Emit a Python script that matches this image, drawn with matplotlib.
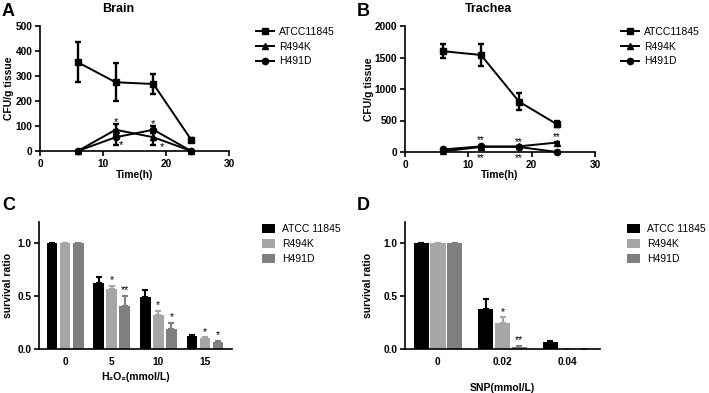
import matplotlib
matplotlib.use("Agg")
import matplotlib.pyplot as plt
import numpy as np

plt.rcParams['font.family'] = ['Liberation Sans', 'DejaVu Sans']

# ---- data ----
time_h = [6, 12, 18, 24]
strains_line = ["ATCC11845", "R494K", "H491D"]
brain_atcc = [355, 275, 268, 45]
brain_atcc_err = [80, 77, 40, 8]
brain_r494k = [0, 85, 55, 0]
brain_r494k_err = [0, 22, 30, 0]
brain_h491d = [0, 55, 85, 0]
brain_h491d_err = [0, 30, 15, 0]

trachea_atcc = [1600, 1540, 800, 440]
trachea_atcc_err = [110, 180, 130, 50]
trachea_r494k = [10, 80, 90, 150]
trachea_r494k_err = [0, 10, 10, 10]
trachea_h491d = [40, 90, 80, 0]
trachea_h491d_err = [0, 10, 10, 0]

strains_bar = ["ATCC 11845", "R494K", "H491D"]
h2o2_conc = ["0", "5", "10", "15"]
h2o2_atcc = [1.0, 0.62, 0.49, 0.12]
h2o2_atcc_err = [0, 0.06, 0.07, 0.01]
h2o2_r494k = [1.0, 0.57, 0.32, 0.10]
h2o2_r494k_err = [0, 0.03, 0.04, 0.01]
h2o2_h491d = [1.0, 0.41, 0.19, 0.07]
h2o2_h491d_err = [0, 0.09, 0.06, 0.01]
h2o2_sig_r494k = ["", "*", "*", "*"]
h2o2_sig_h491d = ["", "**", "*", "*"]

snp_conc = ["0", "0.02", "0.04"]
snp_atcc = [1.0, 0.38, 0.07]
snp_atcc_err = [0, 0.09, 0.01]
snp_r494k = [1.0, 0.25, 0.0]
snp_r494k_err = [0, 0.05, 0]
snp_h491d = [1.0, 0.02, 0.0]
snp_h491d_err = [0, 0.01, 0]
snp_sig_r494k = ["", "*", ""]
snp_sig_h491d = ["", "**", ""]

W, H = 709, 393
fig = plt.figure(figsize=(W / 100, H / 100), dpi=100)

TICK_FS = 7.3
LABEL_FS = 7.5
LEG_FS = 7.5


def px_axes(l, t, r, b):
    return fig.add_axes([l / W, 1 - b / H, (r - l) / W, (b - t) / H])


def style(ax):
    for s in ["top", "right"]:
        ax.spines[s].set_visible(False)
    for s in ["left", "bottom"]:
        ax.spines[s].set_linewidth(1.2)
    ax.tick_params(width=1.2, length=3.5, labelsize=TICK_FS, pad=2)
    for lab in ax.get_xticklabels() + ax.get_yticklabels():
        lab.set_fontweight("bold")


def line_panel(ax, a, ae, r, re_, h, he, ylim, yticks, leg_xy):
    kw = dict(color="black", lw=1.4, capsize=2.5, capthick=1.7, elinewidth=1.7,
              clip_on=False, ms=4.5)
    c1 = ax.errorbar(time_h, a, yerr=ae, marker="s", label=strains_line[0], **kw)
    c2 = ax.errorbar(time_h, r, yerr=re_, marker="^", label=strains_line[1], **kw)
    c3 = ax.errorbar(time_h, h, yerr=he, marker="o", label=strains_line[2], **kw)
    ax.set_xlim(0, 30)
    ax.set_ylim(*ylim)
    ax.set_xticks([0, 10, 20, 30])
    ax.set_yticks(yticks)
    ax.set_xlabel("Time(h)", fontweight="bold", fontsize=LABEL_FS)
    ax.set_ylabel("CFU/g tissue", fontweight="bold", fontsize=LABEL_FS)
    style(ax)
    ax.legend([c1[0], c2[0], c3[0]], strains_line,
              loc="upper left", bbox_to_anchor=(leg_xy[0] / W, 1 - leg_xy[1] / H),
              bbox_transform=fig.transFigure, frameon=False, borderpad=0,
              borderaxespad=0, fontsize=LEG_FS, handlelength=1.7,
              handletextpad=0.5, labelspacing=0.45)


# Panel A
axA = px_axes(40, 26, 229, 151)
line_panel(axA, brain_atcc, brain_atcc_err, brain_r494k, brain_r494k_err,
           brain_h491d, brain_h491d_err, (0, 500), range(0, 501, 100), (256, 27))
axA.yaxis.set_label_coords(-0.14, 0.5)
axA.xaxis.set_label_coords(0.5, -0.15)
for x, y in [(12, 114), (18, 108)]:
    axA.text(x, y, "*", ha="center", va="center", fontsize=8)
for x, y in [(12.9, 22), (19.3, 14)]:
    axA.text(x, y, "*", ha="center", va="center", fontsize=8)

# Panel B
axB = px_axes(405, 26, 595, 152)
line_panel(axB, trachea_atcc, trachea_atcc_err, trachea_r494k, trachea_r494k_err,
           trachea_h491d, trachea_h491d_err, (0, 2000), range(0, 2001, 500), (621, 27))
axB.yaxis.set_label_coords(-0.165, 0.5)
axB.xaxis.set_label_coords(0.5, -0.143)
for x, y in [(12, 190), (18, 165), (24, 240)]:
    axB.text(x, y, "**", ha="center", va="center", fontsize=7)
for x in [12, 18]:
    axB.text(x, -90, "**", ha="center", va="center", fontsize=7)


def bar_panel(ax, cats, vals, errs, sigs, step, width, xlim, leg_xy):
    colors = ["#000000", "#a6a6a6", "#7f7f7f"]
    x = np.arange(len(cats))
    for i, (v, e, c, lab) in enumerate(zip(vals, errs, colors, strains_bar)):
        xs = x + (i - 1) * step
        ax.bar(xs, v, width, color=c, label=lab, zorder=2)
        ax.errorbar(xs, v, yerr=[np.zeros(len(e)), e], fmt="none", ecolor=c,
                    elinewidth=1.5, capsize=2.5, capthick=1.5, zorder=1)
        if sigs[i] is not None:
            for xi, vi, ei, s in zip(xs, v, e, sigs[i]):
                if s:
                    ax.text(xi, vi + ei + 0.005, s, ha="center", va="bottom", fontsize=7.5)
    ax.set_xlim(*xlim)
    ax.set_ylim(0, 1.2)
    ax.set_yticks([0.0, 0.5, 1.0])
    ax.set_yticklabels(["0.0", "0.5", "1.0"])
    ax.set_xticks(x)
    ax.set_xticklabels(cats)
    ax.set_ylabel("survival ratio", fontweight="bold", fontsize=LABEL_FS)
    style(ax)
    ax.tick_params(axis="x", length=0, pad=6)
    ax.legend(loc="upper left", bbox_to_anchor=(leg_xy[0] / W, 1 - leg_xy[1] / H),
              bbox_transform=fig.transFigure, frameon=False, borderpad=0,
              borderaxespad=0, fontsize=LEG_FS, handlelength=1.25,
              handleheight=0.95, handletextpad=0.7, labelspacing=0.45)


axC = px_axes(39, 222, 232, 349)
bar_panel(axC, h2o2_conc, [h2o2_atcc, h2o2_r494k, h2o2_h491d],
          [h2o2_atcc_err, h2o2_r494k_err, h2o2_h491d_err],
          [None, h2o2_sig_r494k, h2o2_sig_h491d], 0.28, 0.23, (-0.56, 3.58), (262, 224))
axC.set_xlabel("H₂O₂(mmol/L)", fontweight="bold", fontsize=LABEL_FS)
axC.yaxis.set_label_coords(-0.135, 0.5)
axC.xaxis.set_label_coords(0.5, -0.18)

axD = px_axes(405, 222, 600, 349)
bar_panel(axD, snp_conc, [snp_atcc, snp_r494k, snp_h491d],
          [snp_atcc_err, snp_r494k_err, snp_h491d_err],
          [None, snp_sig_r494k, snp_sig_h491d], 0.26, 0.235, (-0.51, 2.51), (627, 224))
axD.set_xlabel("SNP(mmol/L)", fontweight="bold", fontsize=LABEL_FS)
axD.yaxis.set_label_coords(-0.164, 0.5)
axD.xaxis.set_label_coords(0.5, -0.265)

# titles and panel letters
fig.text(118 / W, 1 - 9 / H, "Brain", ha="center", va="center", fontweight="bold", fontsize=9)
fig.text(488 / W, 1 - 9 / H, "Trachea", ha="center", va="center", fontweight="bold", fontsize=9)
for lx, ly, s in [(2, 11, "A"), (357, 11, "B"), (2, 206, "C"), (357, 206, "D")]:
    fig.text(lx / W, 1 - ly / H, s, ha="left", va="center", fontweight="bold", fontsize=13)

fig.savefig("out.png", dpi=100)
